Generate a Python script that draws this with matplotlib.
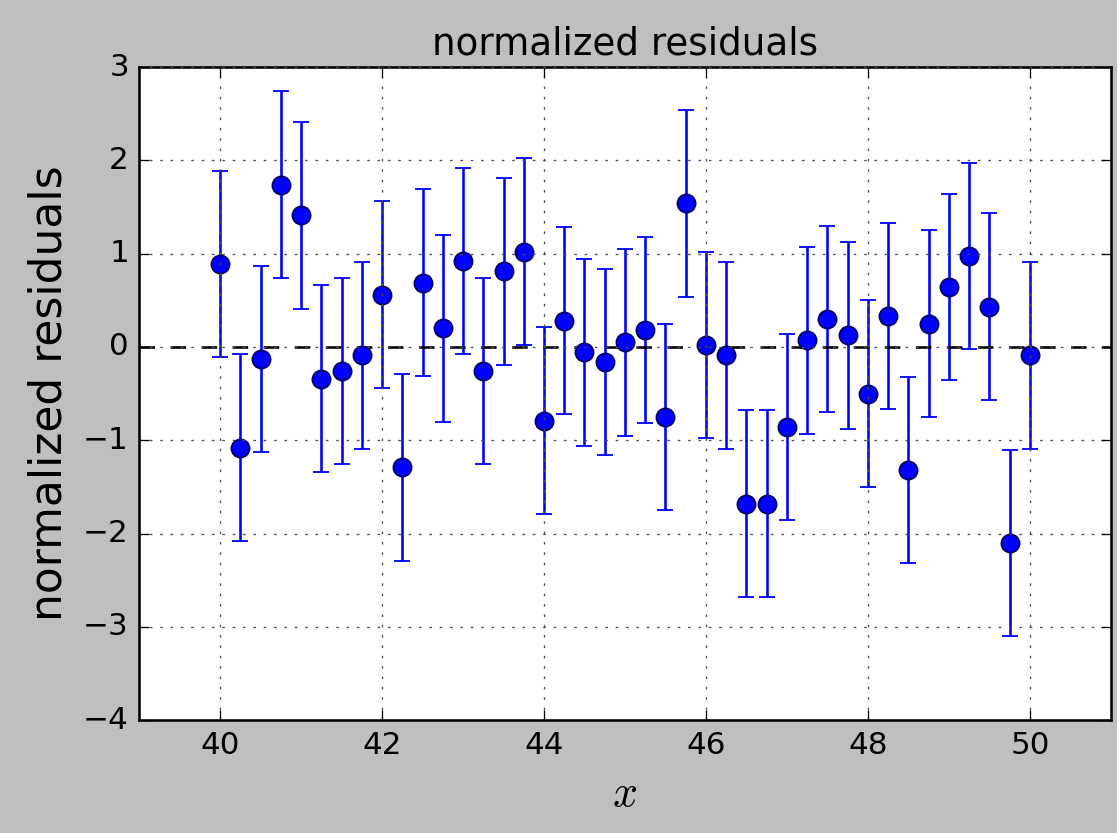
import numpy as np
import matplotlib
matplotlib.use('Agg')
import matplotlib.pyplot as plt

plt.style.use('classic')

# x positions and normalized residuals
x_vals = [40.0, 40.25, 40.5, 40.75, 41.0, 41.25, 41.5, 41.75, 42.0, 42.25,
          42.5, 42.75, 43.0, 43.25, 43.5, 43.75, 44.0, 44.25, 44.5, 44.75,
          45.0, 45.25, 45.5, 45.75, 46.0, 46.25, 46.5, 46.75, 47.0, 47.25,
          47.5, 47.75, 48.0, 48.25, 48.5, 48.75, 49.0, 49.25, 49.5, 49.75,
          50.0]
residuals = [0.89, -1.08, -0.13, 1.74, 1.41, -0.34, -0.26, -0.09, 0.56, -1.29,
             0.69, 0.20, 0.92, -0.26, 0.81, 1.02, -0.79, 0.28, -0.06, -0.16,
             0.05, 0.18, -0.75, 1.54, 0.02, -0.09, -1.68, -1.68, -0.86, 0.07,
             0.30, 0.125, -0.50, 0.33, -1.32, 0.25, 0.64, 0.975, 0.43, -2.10,
             -0.09]
errors = [1.0] * len(x_vals)

fig = plt.figure(figsize=(6.0, 4.471), dpi=186.33, facecolor='0.75')
fig.subplots_adjust(left=0.1245, right=0.9935, bottom=0.1355, top=0.9195)
ax = fig.add_subplot(111)

ax.errorbar(x_vals, residuals, yerr=errors, fmt='bo', markersize=7,
            markeredgecolor='#000066', markeredgewidth=0.7)
ax.axhline(0, color='k', linestyle='--')

ax.set_xlim(39, 51)
ax.set_ylim(-4, 3)
ax.grid(True, color='0.3')
ax.set_title('normalized residuals', fontsize=14.4)
ax.set_xlabel('$x$', fontsize=17)
ax.set_ylabel('normalized residuals', fontsize=17)

fig.savefig('out.png', dpi=186.33, facecolor=fig.get_facecolor())
